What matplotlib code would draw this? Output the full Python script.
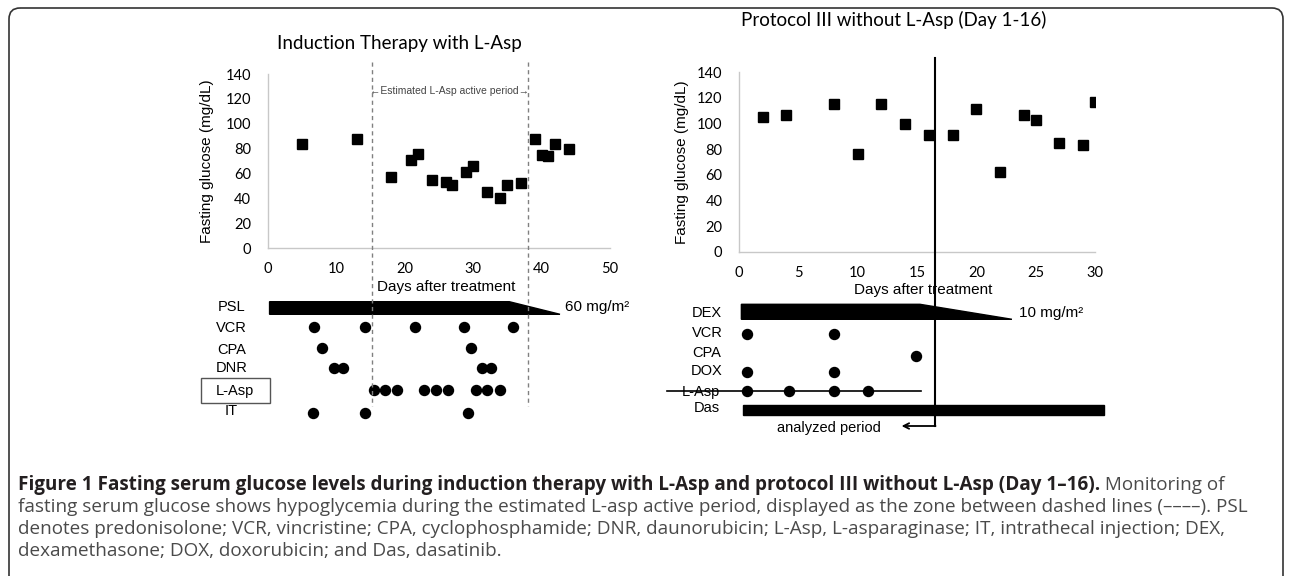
import matplotlib
matplotlib.use('Agg')
import matplotlib.pyplot as plt
from matplotlib.patches import FancyBboxPatch, Polygon, Rectangle

# --- data -------------------------------------------------------------
# induction therapy with L-Asp (fasting glucose, mg/dL)
ind_days = [5, 13, 18, 21, 22, 24, 26, 27, 29, 30, 32, 34, 35, 37, 39, 40, 41, 42, 44]
ind_glu = [84, 88, 57, 71, 76, 55, 53, 51, 61, 66, 45, 40, 51, 52, 88, 75, 74, 84, 80]

# protocol III without L-Asp
pro_days = [2, 4, 8, 10, 12, 14, 16, 18, 20, 22, 24, 25, 27, 29, 30]
pro_glu = [105, 107, 115, 76, 115, 100, 91, 91, 111, 62, 107, 103, 85, 83, 117]

# drug schedules (days)
ind_psl = [0.3, 35.3, 42.7]     # start, start of taper, end
ind_vcr = [6.8, 14.2, 21.5, 28.7, 35.8]
ind_cpa = [7.9, 29.7]
ind_dnr = [9.7, 11.0, 31.3, 32.6]
ind_lasp = [15.5, 17.2, 18.9, 22.8, 24.6, 26.4, 30.4, 32.1, 33.9]
ind_it = [6.7, 14.3, 29.2]
ind_active = [15.2, 38.0]       # estimated L-Asp active period

pro_dex = [0.2, 15.25, 23.0]
pro_vcr = [0.65, 8.0]
pro_cpa = [14.9]
pro_dox = [0.65, 8.0]
pro_lasp = [0.7, 4.2, 8.0, 10.9]
pro_lasp_line = [-6.1, 15.3]
pro_das = [0.3, 30.8]
pro_cut = 16.5                  # end of analyzed period

ind_labels = ['PSL', 'VCR', 'CPA', 'DNR', 'L-Asp', 'IT']
pro_labels = ['DEX', 'VCR', 'CPA', 'DOX', 'L-Asp', 'Das']

caption_bold = ('Figure 1 Fasting serum glucose levels during induction therapy with '
                'L-Asp and protocol III without L-Asp (Day 1\u201316).')
caption_lines = [
    ' Monitoring of',
    'fasting serum glucose shows hypoglycemia during the estimated L-asp active period, '
    'displayed as the zone between dashed lines (\u2013\u2013\u2013\u2013). PSL',
    'denotes predonisolone; VCR, vincristine; CPA, cyclophosphamide; DNR, daunorubicin; '
    'L-Asp, L-asparaginase; IT, intrathecal injection; DEX,',
    'dexamethasone; DOX, doxorubicin; and Das, dasatinib.',
]

# --- figure -----------------------------------------------------------
W, H = 1290, 576
fig = plt.figure(figsize=(W / 100, H / 100), dpi=100)

ARIAL = ['Liberation Sans', 'DejaVu Sans']
CALIB = ['Lato', 'DejaVu Sans']
CAPF = ['Open Sans', 'DejaVu Sans']

# background axes in pixel units
bg = fig.add_axes([0, 0, 1, 1])
bg.set_xlim(0, W)
bg.set_ylim(H, 0)
bg.axis('off')
bg.add_patch(FancyBboxPatch((9, 8), 1274, 600, boxstyle='round,pad=0,rounding_size=11',
                            fill=False, ec='#333333', lw=1.2, clip_on=False))


def add_px_axes(x0, y0, x1, y1):
    return fig.add_axes([x0 / W, 1 - y1 / H, (x1 - x0) / W, (y1 - y0) / H])


def style_chart(ax, xmax, xstep):
    ax.set_xlim(0, xmax)
    ax.set_ylim(0, 140)
    ax.set_xticks(range(0, xmax + 1, xstep))
    ax.set_yticks(range(0, 141, 20))
    for s in ['top', 'right']:
        ax.spines[s].set_visible(False)
    for s in ['left', 'bottom']:
        ax.spines[s].set_color('#c8c8c8')
        ax.spines[s].set_linewidth(1)
    ax.tick_params(length=0, labelsize=10.5, pad=12)
    for t in ax.get_xticklabels() + ax.get_yticklabels():
        t.set_family(CALIB)
    ax.tick_params(axis='x', pad=10)
    ax.set_facecolor('none')


# left chart
ax1 = add_px_axes(267.5, 74, 610, 248)
ax1.plot(ind_days, ind_glu, 's', color='black', ms=7.5)
style_chart(ax1, 50, 10)
bg.text(207, 161, 'Fasting glucose (mg/dL)', rotation=90, ha='center', va='center',
        fontsize=11, family=ARIAL)

# right chart
ax2 = add_px_axes(739, 72.3, 1095, 251.7)
ax2.plot(pro_days, pro_glu, 's', color='black', ms=7.5)
style_chart(ax2, 30, 5)
bg.text(682, 162, 'Fasting glucose (mg/dL)', rotation=90, ha='center', va='center',
        fontsize=11, family=ARIAL)

# overlays in (day, pixel) units for schedules
ov1 = add_px_axes(267.5, 0, 610, H)
ov1.set_xlim(0, 50)
ov1.set_ylim(H, 0)
ov1.axis('off')
ov2 = add_px_axes(739, 0, 1095, H)
ov2.set_xlim(0, 30)
ov2.set_ylim(H, 0)
ov2.axis('off')

dot = dict(marker='o', ls='none', color='black', ms=7.2, clip_on=False)

# left schedule
ov1.add_patch(Polygon([(ind_psl[0], 301.7), (ind_psl[1], 301.7), (ind_psl[2], 314.3),
                       (ind_psl[0], 314.3)], closed=True, color='black', clip_on=False))
ov1.text(ind_psl[2] + 0.7, 307, '60 mg/m\u00b2', ha='left', va='center', fontsize=11, family=ARIAL)
for xs, y in zip([ind_vcr, ind_cpa, ind_dnr, ind_lasp, ind_it], [326.7, 348.3, 367.7, 390, 412.7]):
    ov1.plot(xs, [y] * len(xs), **dot)
for xd in ind_active:
    ov1.plot([xd, xd], [62, 406], color='#808080', lw=1, ls=(0, (3, 2.5)), clip_on=False)
ov1.text(sum(ind_active) / 2, 91, '\u2190Estimated L-Asp active period\u2192', ha='center',
         va='center', fontsize=7.5, color='#444444', family=ARIAL)
ov1.text(26.1, 287, 'Days after treatment', ha='center', va='center', fontsize=11, family=ARIAL)

for lab, y in zip(ind_labels, [306.7, 328.3, 350, 368.3, 391, 411]):
    xc = 235 if lab == 'L-Asp' else 231.5
    bg.text(xc, y, lab, ha='center', va='center', fontsize=10.5, family=ARIAL)
bg.add_patch(Rectangle((201, 377.7), 69, 25.6, fill=False, ec='#555555', lw=1))

# right schedule
ov2.add_patch(Polygon([(pro_dex[0], 304.3), (pro_dex[1], 304.3), (pro_dex[2], 319.3),
                       (pro_dex[0], 319.3)], closed=True, color='black', clip_on=False))
ov2.text(pro_dex[2] + 0.6, 312.7, '10 mg/m\u00b2', ha='left', va='center', fontsize=11, family=ARIAL)
for xs, y in zip([pro_vcr, pro_cpa, pro_dox, pro_lasp], [334.3, 355.7, 371.7, 390.7]):
    ov2.plot(xs, [y] * len(xs), **dot)
ov2.plot(pro_lasp_line, [390.7, 390.7], color='black', lw=1.2, clip_on=False)
ov2.add_patch(Rectangle((pro_das[0], 405), pro_das[1] - pro_das[0], 10, color='black',
                        clip_on=False))
ov2.plot([pro_cut, pro_cut], [58, 426], color='black', lw=1.5, clip_on=False)
ov2.annotate('', xy=(13.7, 426), xytext=(pro_cut + 0.06, 426),
             arrowprops=dict(arrowstyle='->', lw=1.3, color='black', shrinkA=0, shrinkB=0),
             annotation_clip=False)
ov2.text(15.5, 290, 'Days after treatment', ha='center', va='center', fontsize=11, family=ARIAL)
bg.text(829, 428, 'analyzed period', ha='center', va='center', fontsize=10.5, family=ARIAL)

for lab, y in zip(pro_labels, [313.3, 333.3, 352.7, 371, 391.7, 408.3]):
    xc = 701 if lab == 'L-Asp' else 707
    bg.text(xc, y, lab, ha='center', va='center', fontsize=10.5, family=ARIAL)

# titles
bg.text(399, 44, 'Induction Therapy with L-Asp', ha='center', va='center', fontsize=13.5,
        family=CALIB)
bg.text(894, 20, 'Protocol III without L-Asp (Day 1-16)', ha='center', va='center',
        fontsize=13.5, family=CALIB)

# caption, size fitted so the second line spans the panel
renderer = fig.canvas.get_renderer()
probe = bg.text(0, 0, caption_lines[1], fontsize=10, family=CAPF)
w10 = probe.get_window_extent(renderer).width
probe.remove()
csize = 10 * 1227 / w10

cap_y = [490, 512, 534, 556]
tb = bg.text(18, cap_y[0], caption_bold, ha='left', va='baseline', fontsize=csize,
             family=CAPF, weight='bold', color='#231f20')
bw = tb.get_window_extent(renderer).width
bg.text(18 + bw, cap_y[0], caption_lines[0], ha='left', va='baseline', fontsize=csize,
        family=CAPF, color='#4a4a4a')
for line, y in zip(caption_lines[1:], cap_y[1:]):
    bg.text(18, y, line, ha='left', va='baseline', fontsize=csize, family=CAPF, color='#4a4a4a')

fig.savefig('out.png', dpi=100)
